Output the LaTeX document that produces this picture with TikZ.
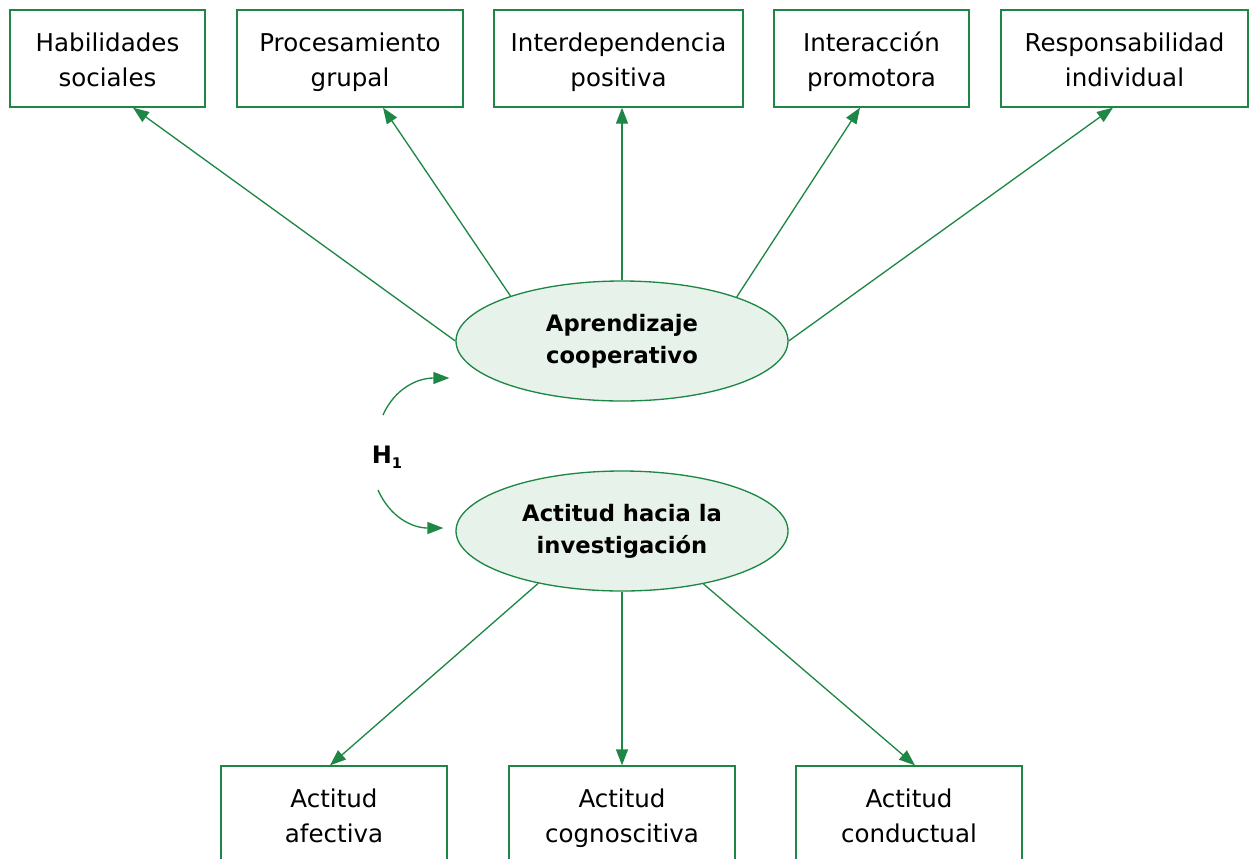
\documentclass[tikz,border=0pt]{standalone}
\usepackage{fontspec}
\setmainfont{DejaVu Sans}
\usetikzlibrary{shapes.geometric,arrows.meta,calc}
\definecolor{grn}{RGB}{30,135,70}
\definecolor{lgrn}{RGB}{231,242,235}
\newcommand{\lnx}[1]{\strut#1}
\newcommand{\lnt}[1]{\rule{0pt}{\dimexpr0.7\baselineskip+4.5pt\relax}#1}
\begin{document}
\begin{tikzpicture}[x=0.75pt,y=-0.75pt,
  box/.style={draw=grn, line width=1pt, minimum height=97*0.75pt, inner sep=0pt,
    align=center, font=\fontsize{18.4}{26.25}\selectfont},
  ell/.style={ellipse, draw=grn, fill=lgrn, line width=1pt, minimum width=332*0.75pt,
    minimum height=120*0.75pt, inner sep=0pt, align=center,
    font=\bfseries\fontsize{17}{24}\selectfont},
  conn/.style={draw=grn, line width=1pt, -{Triangle[length=12pt,width=9pt]}}]
\useasboundingbox (0,0) rectangle (1249,858);
\clip (0,0) rectangle (1249,858);
% top boxes
\node[box, minimum width=195*0.75pt] (b1) at (107.5,58.5) {\lnt{Habilidades}\\\lnx{sociales}};
\node[box, minimum width=226*0.75pt] (b2) at (350,58.5) {\lnt{Procesamiento}\\\lnx{grupal}};
\node[box, minimum width=249*0.75pt] (b3) at (618.5,58.5) {\lnt{Interdependencia}\\\lnx{positiva}};
\node[box, minimum width=195*0.75pt] (b4) at (871.5,58.5) {\lnt{Interacción}\\\lnx{promotora}};
\node[box, minimum width=247*0.75pt] (b5) at (1124.5,58.5) {\lnt{Responsabilidad}\\\lnx{individual}};
% ellipses
\node[ell] (e1) at (622,341) {\lnx{Aprendizaje}\\\lnx{cooperativo}};
\node[ell] (e2) at (622,531) {\lnx{Actitud hacia la}\\\lnx{investigación}};
% bottom boxes
\node[box, minimum width=226*0.75pt] (c1) at (334,814.5) {\lnt{Actitud}\\\lnx{afectiva}};
\node[box, minimum width=226*0.75pt] (c2) at (622,814.5) {\lnt{Actitud}\\\lnx{cognoscitiva}};
\node[box, minimum width=226*0.75pt] (c3) at (909,814.5) {\lnt{Actitud}\\\lnx{conductual}};
% connectors top
\draw[conn] (e1.180) -- ($(b1.south)+(25.5,0)$);
\draw[conn] (e1.158.4) -- ($(b2.south)+(33,0)$);
\draw[conn] (e1.90) -- ($(b3.south)+(3.5,0)$);
\draw[conn] (e1.21.6) -- ($(b4.south)+(-11.5,0)$);
\draw[conn] (e1.0) -- ($(b5.south)+(-11.5,0)$);
% connectors bottom
\draw[conn] (e2.212.7) -- ($(c1.north)+(-4,0)$);
\draw[conn] (e2.270) -- (c2.north);
\draw[conn] (e2.327.3) -- ($(c3.north)+(6,0)$);
% H1
\node[font=\bfseries\fontsize{18}{20}\selectfont, inner sep=0pt] (h) at (387,457) {H\raisebox{-0.35ex}{\fontsize{11}{12}\selectfont 1}};
\coordinate (ha) at (383,415);
\coordinate (hb) at (378,490);
\draw[conn] (ha) .. controls (395,388) and (418,378) .. ($(e1.west)+(-6,37)$);
\draw[conn] (hb) .. controls (390,517) and (412,528) .. ($(e2.west)+(-12,-3)$);
\end{tikzpicture}
\end{document}
